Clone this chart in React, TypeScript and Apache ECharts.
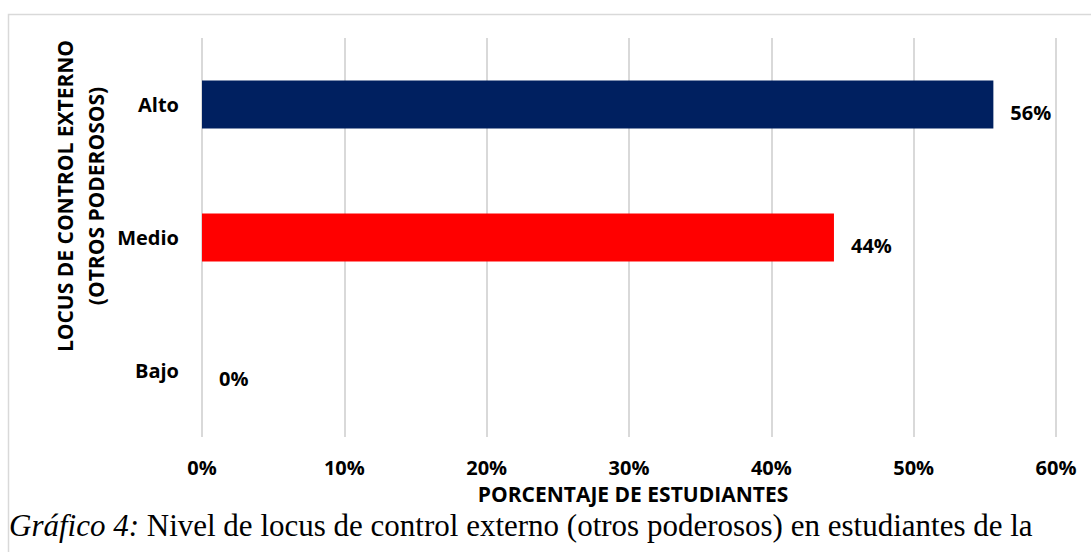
import React, { useEffect, useRef } from "react";
import * as echarts from "echarts";

const categories = ["Bajo", "Medio", "Alto"];
const values = [0, 44.4, 55.6];
const labels = ["0%", "44%", "56%"];
const barColors = ["#7f7f7f", "#ff0000", "#002060"];
const xTicks = [0, 10, 20, 30, 40, 50, 60];
const xAxisTitle = "PORCENTAJE DE ESTUDIANTES";
const yAxisTitle = "LOCUS DE CONTROL EXTERNO\n(OTROS PODEROSOS)";
const captionItalic = "Gráfico 4:";
const captionText = " Nivel de locus de control externo (otros poderosos) en estudiantes de la";

export default function App() {
  const ref = useRef<HTMLDivElement>(null);
  useEffect(() => {
    const chart = echarts.init(ref.current!, null, { renderer: "svg" });
    const font = "'Open Sans', sans-serif";
    chart.setOption({
      animation: false,
      backgroundColor: "#ffffff",
      grid: { left: 202, right: 35, top: 38, bottom: 115, containLabel: false },
      xAxis: {
        type: "value",
        min: xTicks[0],
        max: xTicks[xTicks.length - 1],
        interval: 10,
        axisLine: { show: false },
        axisTick: { show: false },
        splitLine: { show: true, lineStyle: { color: "#d9d9d9", width: 2 } },
        axisLabel: {
          margin: 21,
          formatter: (v: number) => v + "%",
          fontFamily: font,
          fontWeight: "bold",
          fontSize: 20,
          lineHeight: 18,
          color: "#000",
        },
      },
      yAxis: {
        type: "category",
        data: categories,
        axisLine: { show: false },
        axisTick: { show: false },
        axisLabel: {
          margin: 23,
          fontFamily: font,
          fontWeight: "bold",
          fontSize: 20,
          color: "#000",
        },
      },
      series: [
        {
          type: "bar",
          barWidth: 48,
          data: values.map((v, i) => ({ value: v, itemStyle: { color: barColors[i] } })),
          label: {
            show: true,
            position: "right",
            distance: 17,
            offset: [0, 8],
            formatter: (p: any) => labels[p.dataIndex],
            fontFamily: font,
            fontWeight: "bold",
            fontSize: 20,
            color: "#000",
          },
        },
      ],
      graphic: [
        {
          type: "rect",
          shape: { x: 8.5, y: 14.5, width: 1200, height: 700 },
          style: { fill: "none", stroke: "#d9d9d9", lineWidth: 1.5 },
          silent: true,
        },
        {
          type: "text",
          x: 633,
          y: 494,
          style: {
            text: xAxisTitle,
            font: "bold 21px 'Open Sans', sans-serif",
            fill: "#000",
            align: "center",
            verticalAlign: "middle",
            lineHeight: 18,
          },
        },
        {
          type: "text",
          x: 80,
          y: 196,
          rotation: Math.PI / 2,
          style: {
            text: yAxisTitle,
            font: "bold 21px 'Open Sans', sans-serif",
            fill: "#000",
            align: "center",
            verticalAlign: "middle",
            lineHeight: 31,
          },
        },
        {
          type: "text",
          x: 9,
          y: 525,
          style: {
            text: "{i|" + captionItalic + "}{n|" + captionText + "}",
            fill: "#000",
            align: "left",
            verticalAlign: "middle",
            rich: {
              i: { font: "italic 31px 'Liberation Serif', serif", fill: "#000", lineHeight: 28 },
              n: { font: "31px 'Liberation Serif', serif", fill: "#000", lineHeight: 28 },
            },
          },
        },
      ],
    });
    return () => chart.dispose();
  }, []);
  return (
    <div
      ref={ref}
      style={{ position: "fixed", left: 0, top: 0, width: 1091, height: 552 }}
    />
  );
}
